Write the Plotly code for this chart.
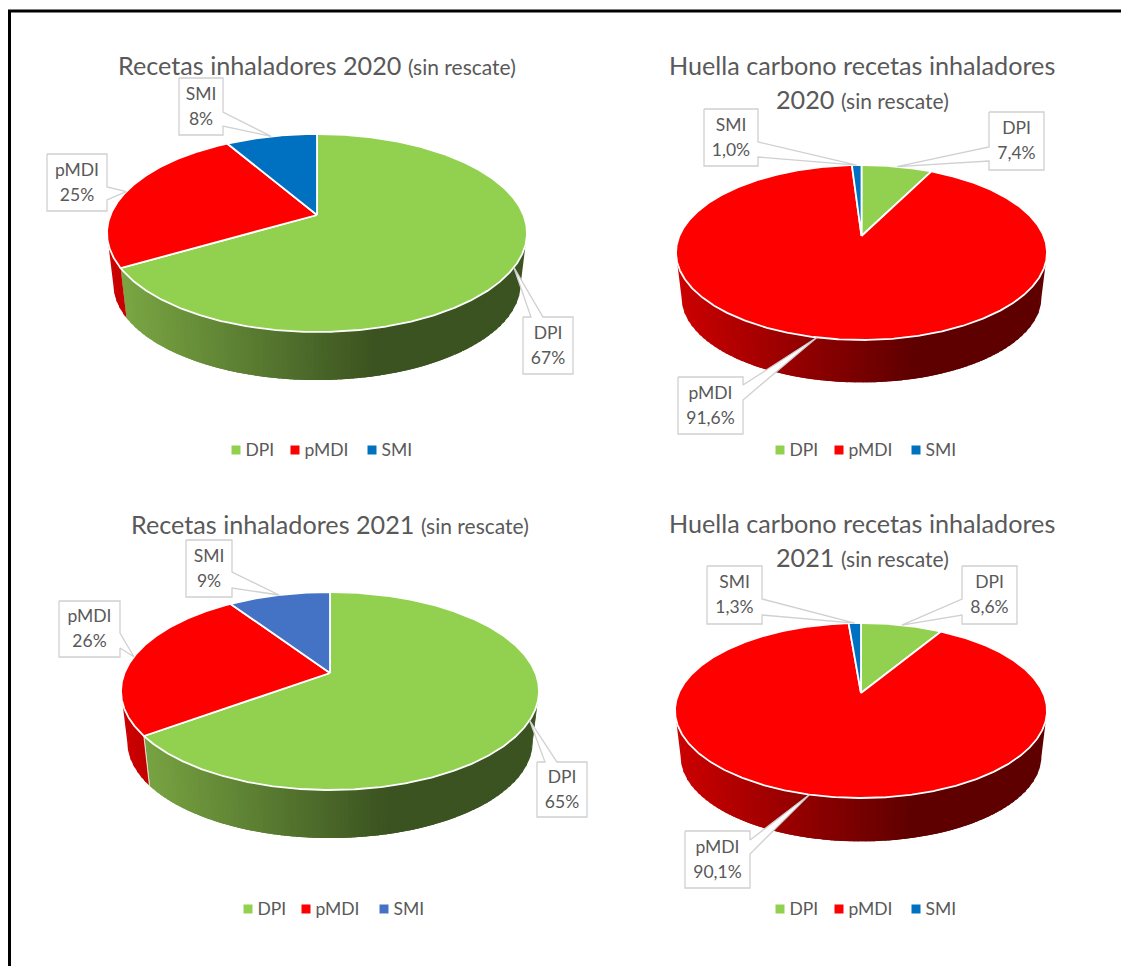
import math
from itertools import groupby
import plotly.graph_objects as go

# ---------- data ----------
categories = ["DPI", "pMDI", "SMI"]
recetas_2020 = [66.6, 25.0, 8.4]
huella_2020 = [7.4, 91.6, 1.0]
recetas_2021 = [65.0, 25.6, 9.4]
huella_2021 = [8.6, 90.1, 1.3]

# ---------- style / layout ----------
FONT = "Lato"
GREY = "#595959"
GREEN, RED, BLUE, BLUE2 = "#92d050", "#ff0000", "#0070c0", "#4472c4"
SIDE = {GREEN: ("#7dab45", "#3b5320"), RED: ("#cc0000", "#5f0000"),
        BLUE: ("#005a9a", "#003a60"), BLUE2: ("#365b9d", "#203660")}
SUB = "<span style='font-size:21px'>(sin rescate)</span>"

panels = [
    dict(values=recetas_2020, decimals=0, colors=[GREEN, RED, BLUE],
         title=[(317, 64.5, "Recetas inhaladores 2020 " + SUB)],
         box=dict(left=107, right=527, top=134, bottom=332, apex=215, depth=51),
         labels=[((523, 317, 573, 374), "top", (531, 543)),
                 ((47, 154, 107, 211), "right", (187, 200)),
                 ((179, 78, 223, 135), "right", (112, 126))],
         legend=[(236, 450), (295, 450), (372, 450)]),
    dict(values=huella_2020, decimals=1, colors=[GREEN, RED, BLUE],
         title=[(862, 64.5, "Huella carbono recetas inhaladores"),
                (862, 98.5, "2020 " + SUB)],
         box=dict(left=676, right=1047, top=165, bottom=340, apex=236, depth=45),
         labels=[((989, 112, 1044, 170), "left", (147, 161)),
                 ((678, 377, 743, 434), "right", (385, 400)),
                 ((704, 109, 758, 166), "right", (142, 157))],
         legend=[(780, 450), (839, 450), (916, 450)]),
    dict(values=recetas_2021, decimals=0, colors=[GREEN, RED, BLUE2],
         title=[(330, 524, "Recetas inhaladores 2021 " + SUB)],
         box=dict(left=121, right=539, top=592, bottom=790, apex=673, depth=51),
         labels=[((537, 762, 587, 817), "top", (545, 557)),
                 ((59, 601, 120, 657), "right", (633, 648)),
                 ((186, 540, 232, 597), "right", (572, 588))],
         legend=[(248, 909), (306, 909), (384, 909)]),
    dict(values=huella_2021, decimals=1, colors=[GREEN, RED, BLUE],
         title=[(862, 523, "Huella carbono recetas inhaladores"),
                (862, 556.5, "2021 " + SUB)],
         box=dict(left=675, right=1047, top=623, bottom=798, apex=693, depth=46),
         labels=[((962, 566, 1017, 624), "left", (599, 615)),
                 ((685, 831, 750, 888), "right", (840, 854)),
                 ((707, 566, 762, 624), "right", (599, 615))],
         legend=[(780, 909), (839, 909), (916, 909)]),
]

BOTTOM_SCALE = 0.97
GRAD_END = 0.64
BAND_PX = 4
OVERLAP = 5


def hex_rgb(c):
    return tuple(int(c[i:i + 2], 16) for i in (1, 3, 5))


def mix(a, b, t):
    ra, rb = hex_rgb(a), hex_rgb(b)
    return "rgb(%d,%d,%d)" % tuple(round(x + (y - x) * t) for x, y in zip(ra, rb))


def projector(b):
    """Perspective map of the unit pie disc onto the drawn top ellipse."""
    up = b["apex"] - b["top"]
    down = b["bottom"] - b["apex"]
    k = (down - up) / (down + up)
    B = up * (1 + k)
    rx = (b["right"] - b["left"]) / 2
    A = rx * math.sqrt(1 - k * k)
    cx = (b["right"] + b["left"]) / 2

    def at(share):
        th = 2 * math.pi * share / 100
        u, v = math.sin(th), math.cos(th)
        d = 1 + k * v
        return cx + A * u / d, b["apex"] - B * v / d
    return at, cx, (b["top"] + b["bottom"]) / 2


fig = go.Figure()


def poly(xs, ys, fill, line=None, width=0):
    fig.add_trace(go.Scatter(x=xs, y=ys, mode="lines", fill="toself", fillcolor=fill,
                             line=dict(color=line or fill, width=width),
                             hoverinfo="skip", showlegend=False))


annotations = []
for p in panels:
    b = p["box"]
    at, cx, cy = projector(b)
    depth = b["depth"]

    def lower(x, y):
        return cx + BOTTOM_SCALE * (x - cx), cy + BOTTOM_SCALE * (y - cy) + depth

    # extruded side, in vertical gradient bands
    starts = [sum(p["values"][:i]) for i in range(len(p["values"]))]
    for s0, val, col in zip(starts, p["values"], p["colors"]):
        n = max(2, int(val * 12))
        pts = [at(s0 + val * j / n) for j in range(n + 1)]
        vis = [q for q in pts if q[1] >= cy]
        if len(vis) < 2:
            continue
        left_c, dark_c = SIDE[col]
        span = b["right"] - b["left"]
        keyed = [(int((q[0] - b["left"]) / BAND_PX), q) for q in vis]
        groups = [list(g) for _, g in groupby(keyed, key=lambda e: e[0])]
        used = 0
        for g in groups:
            used += len(g)
            arc = [e[1] for e in g] + [e[1] for e in keyed[used:used + OVERLAP]]
            if len(arc) < 2:
                continue
            t = min(1, ((g[0][0] + 0.5) * BAND_PX) / (span * GRAD_END))
            low = [lower(*q) for q in arc]
            xs = [q[0] for q in arc] + [q[0] for q in reversed(low)]
            ys = [q[1] for q in arc] + [q[1] for q in reversed(low)]
            poly(xs + xs[:1], ys + ys[:1], mix(left_c, dark_c, t))
        for q in (vis[0], vis[-1]):
            if b["left"] + 15 < q[0] < b["right"] - 15:
                lo = lower(*q)
                fig.add_trace(go.Scatter(x=[q[0], lo[0]], y=[q[1], lo[1]], mode="lines",
                                         line=dict(color="rgba(255,255,255,0.7)", width=1),
                                         hoverinfo="skip", showlegend=False))

    # top face slices
    apex_xy = at(0)[0], b["apex"]
    for s0, val, col in zip(starts, p["values"], p["colors"]):
        n = max(4, int(val * 8))
        pts = [at(s0 + val * j / n) for j in range(n + 1)]
        xs = [apex_xy[0]] + [q[0] for q in pts] + [apex_xy[0]]
        ys = [apex_xy[1]] + [q[1] for q in pts] + [apex_xy[1]]
        poly(xs, ys, col, "#ffffff", 1.8)

    # callout labels, wedge tip on the slice's mid angle
    for s0, val, name, (rect, side, base) in zip(starts, p["values"], categories, p["labels"]):
        x0, y0, x1, y1 = rect
        tip = at(s0 + val / 2)
        if side == "right":
            path = [(x0, y0), (x1, y0), (x1, base[0]), tip, (x1, base[1]), (x1, y1), (x0, y1), (x0, y0)]
        elif side == "left":
            path = [(x0, y0), (x1, y0), (x1, y1), (x0, y1), (x0, base[1]), tip, (x0, base[0]), (x0, y0)]
        else:
            path = [(x0, y0), (base[0], y0), tip, (base[1], y0), (x1, y0), (x1, y1), (x0, y1), (x0, y0)]
        poly([q[0] for q in path], [q[1] for q in path], "#ffffff", "#d0d0d0", 1.3)
        txt = f"{val:.{p['decimals']}f}".replace(".", ",") + "%"
        mx, my = (x0 + x1) / 2, (y0 + y1) / 2
        fig.add_trace(go.Scatter(x=[mx, mx], y=[my - 11, my + 14], mode="text", text=[name, txt],
                                 textposition="middle center",
                                 textfont=dict(family=FONT, size=17.5, color=GREY),
                                 hoverinfo="skip", showlegend=False))

    # legend
    for (lx, ly), name, col in zip(p["legend"], categories, p["colors"]):
        fig.add_trace(go.Scatter(x=[lx], y=[ly], mode="markers",
                                 marker=dict(symbol="square", size=9, color=col),
                                 hoverinfo="skip", showlegend=False))
        fig.add_trace(go.Scatter(x=[lx + 9.5], y=[ly + 1.5], mode="text", text=[name],
                                 textposition="middle right",
                                 textfont=dict(family=FONT, size=17.5, color=GREY),
                                 hoverinfo="skip", showlegend=False))

    for tx, ty, text in p["title"]:
        annotations.append(dict(x=tx, y=ty, xref="x", yref="y", text=text, showarrow=False,
                                xanchor="center", yanchor="middle",
                                font=dict(family=FONT, size=25.2, color=GREY)))

# image frame
fig.add_trace(go.Scatter(x=[9.5, 9.5, 1121], y=[966, 11, 11], mode="lines",
                         line=dict(color="#000000", width=3),
                         hoverinfo="skip", showlegend=False))

fig.update_layout(width=1121, height=966, margin=dict(l=0, r=0, t=0, b=0),
                  paper_bgcolor="#ffffff", plot_bgcolor="#ffffff", showlegend=False,
                  annotations=annotations,
                  xaxis=dict(range=[0, 1121], visible=False, fixedrange=True),
                  yaxis=dict(range=[966, 0], visible=False, fixedrange=True))

fig.write_html("out.html", config={"displayModeBar": False},
               post_script="document.body.style.margin='0';")
